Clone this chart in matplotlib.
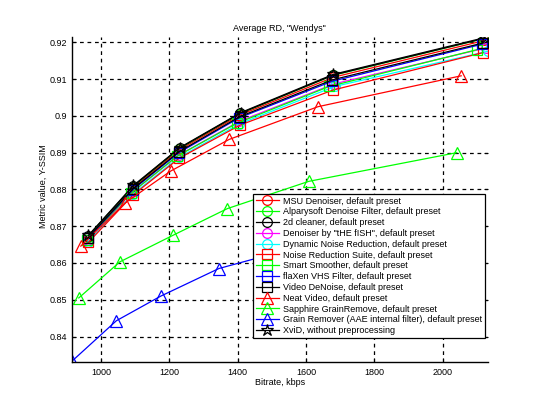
import matplotlib
matplotlib.use("Agg")
import matplotlib.pyplot as plt
from matplotlib.ticker import FuncFormatter

plt.rcParams['font.family'] = ['Liberation Sans', 'DejaVu Sans']

# ---- data ----
names = [
    'MSU Denoiser, default preset',
    'Alparysoft Denoise Filter, default preset',
    '2d cleaner, default preset',
    'Denoiser by "tHE fISH", default preset',
    'Dynamic Noise Reduction, default preset',
    'Noise Reduction Suite, default preset',
    'Smart Smoother, default preset',
    'flaXen VHS Filter, default preset',
    'Video DeNoise, default preset',
    'Neat Video, default preset',
    'Sapphire GrainRemove, default preset',
    'Grain Remover (AAE internal filter), default preset',
    'XviD, without preprocessing',
]

msu_x = [963, 1095, 1230, 1408, 1680, 2122]
msu_y = [0.8670, 0.8805, 0.8908, 0.9003, 0.9105, 0.9205]
alp_x = [962, 1094, 1229, 1406, 1678, 2120]
alp_y = [0.8672, 0.8808, 0.8911, 0.9006, 0.9110, 0.9210]
cln_x = [963, 1095, 1230, 1408, 1680, 2123]
cln_y = [0.8674, 0.8809, 0.8912, 0.9007, 0.9111, 0.9211]
fish_x = [961, 1092, 1227, 1404, 1682, 2128]
fish_y = [0.8663, 0.8793, 0.8893, 0.8985, 0.9087, 0.9185]
dnr_x = [962, 1093, 1228, 1405, 1684, 2133]
dnr_y = [0.8658, 0.8787, 0.8887, 0.8978, 0.9080, 0.9176]
nrs_x = [963, 1094, 1229, 1407, 1678, 2118]
nrs_y = [0.8656, 0.8785, 0.8885, 0.8975, 0.9070, 0.9172]
ss_x = [958, 1088, 1222, 1398, 1668, 2100]
ss_y = [0.8662, 0.8790, 0.8890, 0.8980, 0.9080, 0.9180]
flx_x = [962, 1093, 1228, 1405, 1676, 2115]
flx_y = [0.8667, 0.8799, 0.8900, 0.8995, 0.9094, 0.9195]
vdn_x = [963, 1094, 1229, 1406, 1677, 2117]
vdn_y = [0.8669, 0.8802, 0.8903, 0.8998, 0.9098, 0.9198]
neat_x = [941, 1070, 1204, 1375, 1635, 2054]
neat_y = [0.8646, 0.8763, 0.8850, 0.8936, 0.9025, 0.9109]
sap_x = [935, 1055, 1210, 1370, 1608, 2041]
sap_y = [0.8505, 0.8603, 0.8675, 0.8748, 0.8822, 0.8900]
grn_x = [915, 1045, 1175, 1345, 1590, 2000]
grn_y = [0.8333, 0.8443, 0.8510, 0.8585, 0.8647, 0.8720]
xvid_x = [963, 1095, 1231, 1409, 1680, 2124]
xvid_y = [0.8675, 0.8811, 0.8914, 0.9009, 0.9113, 0.9213]

series = [
    (msu_x, msu_y, 'red', 'o'),
    (alp_x, alp_y, '#00ff00', 'o'),
    (cln_x, cln_y, 'black', 'o'),
    (fish_x, fish_y, 'magenta', 'o'),
    (dnr_x, dnr_y, 'cyan', 'o'),
    (nrs_x, nrs_y, 'red', 's'),
    (ss_x, ss_y, '#00ff00', 's'),
    (flx_x, flx_y, 'blue', 's'),
    (vdn_x, vdn_y, 'black', 's'),
    (neat_x, neat_y, 'red', '^'),
    (sap_x, sap_y, '#00ff00', '^'),
    (grn_x, grn_y, 'blue', '^'),
    (xvid_x, xvid_y, 'black', '*'),
]

xticks = [1000, 1200, 1400, 1600, 1800, 2000]
yticks = [0.84, 0.85, 0.86, 0.87, 0.88, 0.89, 0.90, 0.91, 0.92]

fig = plt.figure(figsize=(5.42, 3.98), dpi=100)
W, H = 542, 398
left, right, top, bottom = 71.7, 487.5, 37.0, 362.3
ax = fig.add_axes([left / W, 1 - bottom / H, (right - left) / W, (bottom - top) / H])

for (xs, ys, c, m), name in zip(series, names):
    ms = 9 if m == '*' else 7
    if m == 's':
        ms = 6.5
    if m == '^':
        ms = 8
    ax.plot(xs, ys, color=c, marker=m, markerfacecolor='none', markeredgecolor=c,
            markersize=ms, linewidth=0.9, markeredgewidth=0.9, label=name)

ax.set_xlim(914.3, 2131)
ax.set_ylim(0.8330, 0.92145)
ax.set_xticks(xticks)
ax.set_yticks(yticks)
ax.yaxis.set_major_formatter(FuncFormatter(lambda v, p: ('%.2f' % v).rstrip('0')))
ax.xaxis.set_major_formatter(FuncFormatter(lambda v, p: '%d' % v))
ax.grid(True, color='black', linestyle=(0, (3, 3)), linewidth=0.9)
ax.tick_params(direction='in', length=3, labelsize=6.5, width=0.8, right=True, top=False)
ax.tick_params(axis='y', pad=3)
ax.tick_params(axis='x', pad=4)
for s in ['top', 'right']:
    ax.spines[s].set_visible(False)
for s in ['left', 'bottom']:
    ax.spines[s].set_linewidth(1.0)

ax.set_title('Average RD, "Wendys"', fontsize=6.5, pad=4)
ax.set_xlabel('Bitrate, kbps', fontsize=6.5, labelpad=1)
ax.set_ylabel('Metric value, Y-SSIM', fontsize=6.5)
ax.yaxis.set_label_coords(-0.058, 0.542)

leg = ax.legend(loc='upper left', bbox_to_anchor=(0.436, 0.518), borderaxespad=0,
                fontsize=6.5, fancybox=False, framealpha=1, edgecolor='black',
                handlelength=2.6, handletextpad=0.4, labelspacing=0.2,
                borderpad=0.3)
leg.get_frame().set_linewidth(0.9)

fig.savefig('out.png', dpi=100)
